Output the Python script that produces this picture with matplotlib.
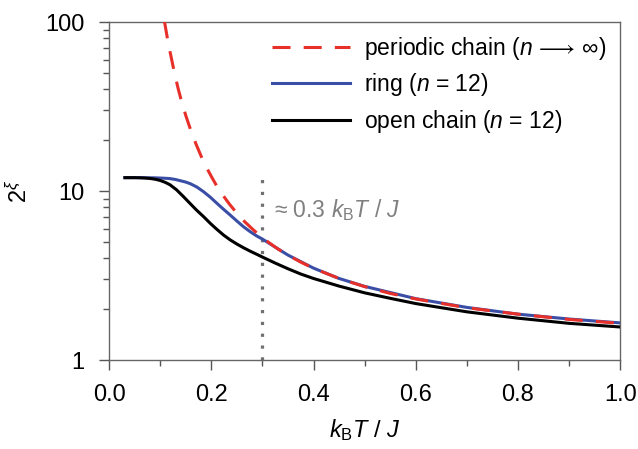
import matplotlib
matplotlib.use("Agg")
import matplotlib.pyplot as plt

plt.rcParams['font.family'] = ['Liberation Sans', 'DejaVu Sans']
plt.rcParams['mathtext.fontset'] = 'custom'
plt.rcParams['mathtext.rm'] = 'Liberation Sans'
plt.rcParams['mathtext.it'] = 'Liberation Sans:italic'
plt.rcParams['mathtext.bf'] = 'Liberation Sans:bold'
plt.rcParams['mathtext.fallback'] = 'stixsans'

# periodic chain (n -> inf)
t_per = [0.108, 0.112, 0.116, 0.12, 0.125, 0.13, 0.135, 0.14, 0.15, 0.16, 0.17, 0.18,
         0.19, 0.20, 0.21, 0.22, 0.235, 0.25, 0.265, 0.28, 0.30, 0.33, 0.35, 0.375,
         0.40, 0.45, 0.50, 0.55, 0.60, 0.70, 0.80, 0.90, 1.00]
y_per = [102, 87, 74, 65, 55, 47, 40.5, 35.5, 28, 22.8, 19.0, 16.1,
         13.9, 12.2, 10.8, 9.7, 8.4, 7.4, 6.6, 5.98, 5.28, 4.55, 4.18, 3.8,
         3.49, 3.04, 2.72, 2.48, 2.30, 2.04, 1.87, 1.74, 1.65]

# ring (n = 12)
t_ring = [0.031, 0.06, 0.09, 0.10, 0.11, 0.119, 0.13, 0.14, 0.15, 0.159, 0.172, 0.185,
          0.198, 0.211, 0.224, 0.237, 0.25, 0.263, 0.276, 0.289, 0.30, 0.33, 0.35,
          0.40, 0.45, 0.50, 0.60, 0.70, 0.80, 0.90, 1.00]
y_ring = [12.0, 12.0, 11.97, 11.94, 11.9, 11.85, 11.7, 11.5, 11.3, 11.05, 10.55, 9.9,
          9.2, 8.46, 7.8, 7.21, 6.65, 6.15, 5.75, 5.42, 5.2, 4.56, 4.18,
          3.5, 3.04, 2.73, 2.31, 2.05, 1.87, 1.75, 1.66]

# open chain (n = 12)
t_open = [0.031, 0.05, 0.06, 0.07, 0.08, 0.09, 0.10, 0.11, 0.119, 0.132, 0.145,
          0.158, 0.171, 0.185, 0.198, 0.211, 0.224, 0.237, 0.25, 0.263, 0.276, 0.29,
          0.30, 0.325, 0.35, 0.375, 0.40, 0.45, 0.50, 0.55, 0.60, 0.70, 0.80, 0.90, 1.00]
y_open = [12.0, 12.0, 11.98, 11.94, 11.87, 11.75, 11.55, 11.25, 10.9, 10.17, 9.3,
          8.47, 7.72, 7.05, 6.44, 5.93, 5.49, 5.14, 4.86, 4.62, 4.41, 4.21,
          4.07, 3.75, 3.47, 3.23, 3.04, 2.74, 2.50, 2.32, 2.16, 1.93, 1.77, 1.65, 1.57]

fig = plt.figure(figsize=(6.38, 4.49), dpi=100)
ax = fig.add_axes([0.171, 0.198, 0.801, 0.753])

ax.plot([0.3, 0.3], [1, 11.9], color='#707070', lw=2.3, ls=(0, (1, 2.7)),
        dash_capstyle='butt')
ax.plot(t_per, y_per, color='#e8302a', lw=2.2, dashes=(5.9, 4.3), dash_capstyle='butt',
        label=r'periodic chain ($n\,\longrightarrow\,\infty$)', zorder=4)
ax.plot(t_ring, y_ring, color='#3a4ea6', lw=2.2, label=r'ring ($n$ = 12)', zorder=3)
ax.plot(t_open, y_open, color='black', lw=2.2, label=r'open chain ($n$ = 12)', zorder=3)

ax.text(0.323, 7.7, r'≈ 0.3 $k_\mathrm{B}T$ / $J$', color='#808080',
        fontsize=16.5, va='center', ha='left')

ax.set_yscale('log')
ax.set_xlim(0, 1.0)
ax.set_ylim(1, 100)
ax.set_xticks([0.0, 0.2, 0.4, 0.6, 0.8, 1.0])
ax.set_xticklabels(['0.0', '0.2', '0.4', '0.6', '0.8', '1.0'])
ax.set_xticks([0.1, 0.3, 0.5, 0.7, 0.9], minor=True)
ax.set_yticks([1, 10, 100])
ax.set_yticklabels(['1', '10', '100'])

ax.tick_params(which='major', direction='out', length=7.5, width=1, color='#555555',
               labelsize=17, pad=10)
ax.tick_params(which='minor', direction='out', length=4.5, width=1, color='#555555')
for s in ax.spines.values():
    s.set_color('#666666')
    s.set_linewidth(1)

ax.set_xlabel(r'$k_\mathrm{B}T$ / $J$', fontsize=17, labelpad=8)
ax.set_ylabel(r'$2^{\xi}$', fontsize=17, labelpad=10)

ax.legend(loc='upper right', frameon=False, fontsize=16.5, handlelength=3.4,
          handletextpad=0.6, labelspacing=0.42, borderaxespad=0.0,
          bbox_to_anchor=(0.99, 0.99))

fig.savefig('out.png', dpi=100)
